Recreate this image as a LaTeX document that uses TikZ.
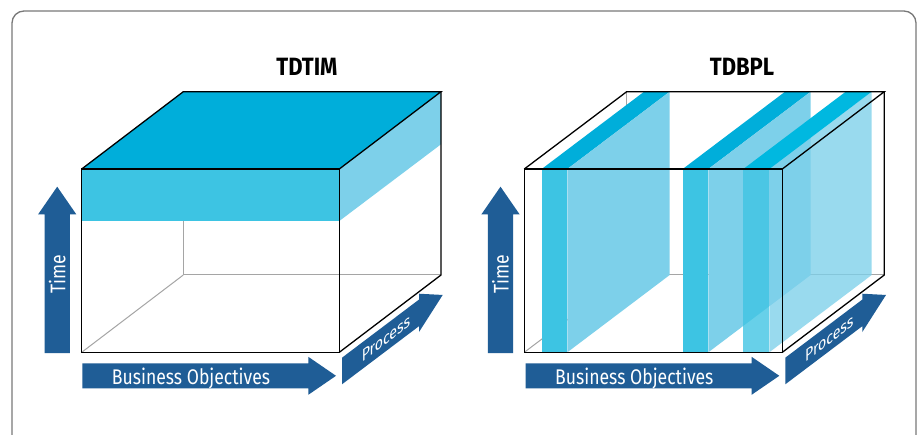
\documentclass[tikz,border=0pt]{standalone}
\usepackage{fontspec}
\setmainfont{Fira Sans}[FakeStretch=0.83, BoldFeatures={FakeStretch=0.88}]
\definecolor{arrowblue}{RGB}{31,93,150}
\definecolor{topcyan}{RGB}{0,174,218}
\definecolor{topcyanb}{RGB}{0,184,224}
\definecolor{frontcyan}{RGB}{61,196,227}
\definecolor{sidecyan}{RGB}{125,208,234}
\definecolor{framegray}{RGB}{120,120,120}
\definecolor{backgray}{RGB}{165,165,165}
\tikzset{
  edge/.style={black, line width=1.3pt, line join=miter},
  hiddenedge/.style={backgray, line width=1pt},
  axisfill/.style={fill=arrowblue},
  axislabel/.style={text=white, font=\fontsize{21.2}{25}\selectfont, inner sep=0pt},
  proclabel/.style={text=white, font=\fontsize{17}{20}\selectfont, inner sep=0pt},
  titlelabel/.style={font=\bfseries\fontsize{25}{30}\selectfont, inner sep=0pt},
  topface/.style={fill=topcyan},
  frontface/.style={fill=frontcyan},
  sideface/.style={fill=sidecyan},
}
\newcommand\axesat[2]{%
\begin{scope}[shift={(#1,0)}]
  \fill[axisfill] (44.5,353) -- (44.5,214.5) -- (38,214.5) -- (57.2,186.7) -- (76.4,214.5) -- (69.9,214.5) -- (69.9,353) -- cycle;
  \node[axislabel, rotate=90] (time#2) at (57.2,274) {Time};
  \fill[axisfill] (82.3,363.3) -- (308.3,363.3) -- (308.3,356.8) -- (336,375.8) -- (308.3,394.8) -- (308.3,388.3) -- (82.3,388.3) -- cycle;
  \node[axislabel, anchor=base west] (bus#2) at (111.7,384.5) {Business Objectives};
  \begin{scope}[shift={(342,371)}, cm={1,0.755,0,1,(0,0)}]
    \fill[axisfill] (0,-13.3) -- (77,-13.3) -- (77,-19.15) -- (100.7,0) -- (77,19.15) -- (77,13.3) -- (0,13.3) -- cycle;
    \node[proclabel, transform shape] (proc#2) at (44,0.5) {Process};
  \end{scope}
\end{scope}}
\begin{document}
\begin{tikzpicture}[x=1pt,y=-1pt]
\useasboundingbox (0,0) rectangle (920,435);
\fill[white] (0,0) rectangle (920,435);
\draw[framegray, line width=1.3pt, rounded corners=12pt] (12,445) -- (12,11) -- (916,11) -- (916,445);

% ---------- left panel: TDTIM ----------
\node[titlelabel] (t1) at (307,67) {TDTIM};
\coordinate (aFTL) at (81.7,169);   \coordinate (aFTR) at (339.3,169);
\coordinate (aFBL) at (81.7,352.3); \coordinate (aFBR) at (339.3,352.3);
\coordinate (aBTL) at (183.3,91.7); \coordinate (aBTR) at (441,91.7);
\coordinate (aBBL) at (183.3,275);  \coordinate (aBBR) at (441,275);
\fill[topface] (aFTL) -- (aBTL) -- (aBTR) -- (aFTR) -- cycle;
\fill[frontface] (aFTL) rectangle (339.3,221);
\fill[sideface] (aFTR) -- (aBTR) -- (441,144.3) -- (339.3,221) -- cycle;
\draw[hiddenedge] (183.3,221) -- (aBBL) -- (aBBR);
\draw[hiddenedge] (aFBL) -- (aBBL);
\draw[edge] (aFTL) rectangle (aFBR);
\draw[edge] (aFTL) -- (aBTL) -- (aBTR) -- (aFTR);
\draw[edge] (aBTR) -- (aBBR) -- (aFBR);
\axesat{0}{a}

% ---------- right panel: TDBPL ----------
\node[titlelabel] (t2) at (742,67) {TDBPL};
\coordinate (bFTL) at (524.3,169);   \coordinate (bFTR) at (782.3,169);
\coordinate (bFBL) at (524.3,352.3); \coordinate (bFBR) at (782.3,352.3);
\coordinate (bBTL) at (626.7,91.7);  \coordinate (bBTR) at (884.3,91.7);
\coordinate (bBBL) at (626.7,275);   \coordinate (bBBR) at (884.3,275);
\draw[hiddenedge] (bBTL) -- (bBBL) -- (bBBR);
\draw[hiddenedge] (bFBL) -- (bBBL);
% slabs
\foreach \a/\b in {541.7/567.3, 682.7/708.3}{
  \fill[topface] (\a,169) -- (\b,169) -- ({\b+102.4},91.7) -- ({\a+102.4},91.7) -- cycle;
  \fill[frontface] (\a,169) rectangle (\b,352.3);
  \fill[sideface] (\b,169) -- ({\b+102.4},91.7) -- ({\b+102.4},275) -- (\b,352.3) -- cycle;
}
\begin{scope}[opacity=0.78]
  \fill[frontface] (743.3,169) rectangle (769.3,352.3);
  \fill[sideface] (769.3,169) -- (871.7,91.7) -- (871.7,275) -- (769.3,352.3) -- cycle;
\end{scope}
\fill[topcyanb] (743.3,169) -- (769.3,169) -- (871.7,91.7) -- (845.7,91.7) -- cycle;
\draw[edge] (bFTL) rectangle (bFBR);
\draw[edge] (bFTL) -- (bBTL) -- (bBTR) -- (bFTR);
\draw[edge] (bBTR) -- (bBBR) -- (bFBR);
\axesat{443.3}{b}
\end{tikzpicture}
\end{document}
